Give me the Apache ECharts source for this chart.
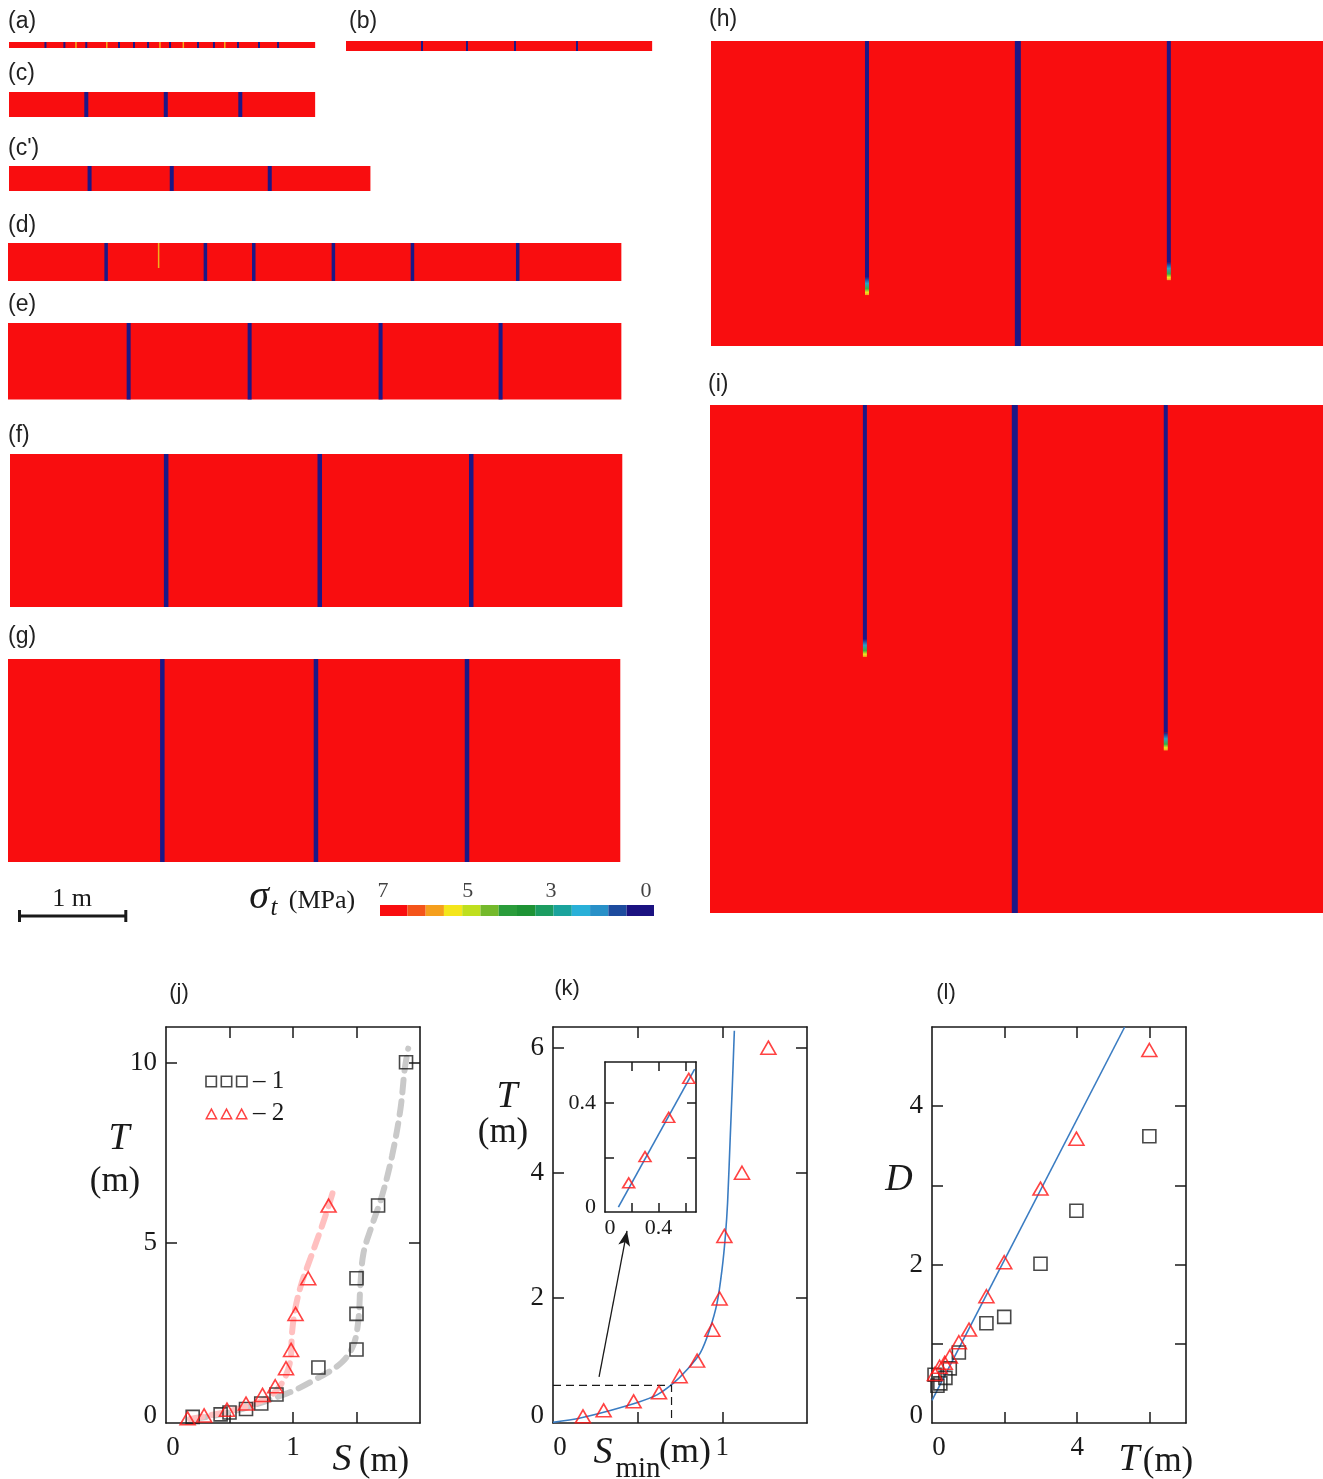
<!DOCTYPE html>
<html>
<head>
<meta charset="utf-8">
<script src="https://cdn.jsdelivr.net/npm/echarts@6/dist/echarts.min.js"></script>
<style>
  html, body { margin: 0; padding: 0; background: #fff; }
  #chart { width: 1323px; height: 1479px; }
</style>
</head>
<body>
<div id="chart"></div>
<script>
// ---------- data: stress contour panels (metres) ----------
const panelNames = ['(a)', '(b)', '(c)', "(c')", '(d)', '(e)', '(f)', '(g)', '(h)', '(i)'];
const panelLength = [2.88, 2.88, 2.88, 3.40, 5.77, 5.77, 5.76, 5.76, 5.76, 5.77];
const panelThickness = [0.056, 0.094, 0.235, 0.235, 0.357, 0.72, 1.44, 1.91, 2.87, 4.78];
const crackX = [
  [0.343, 0.521, 0.727, 1.035, 1.176, 1.308, 1.515, 1.778, 1.928, 2.154, 2.352, 2.531],
  [0.715, 1.138, 1.590, 2.173],
  [0.727, 1.475, 2.176],
  [0.758, 1.531, 2.453],
  [0.923, 1.857, 2.312, 3.061, 3.805, 4.795],
  [1.135, 2.273, 3.505, 4.634],
  [1.469, 2.914, 4.339],
  [1.452, 2.897, 4.318],
  [1.468, 2.888, 4.309],
  [1.458, 2.869, 4.290]
];
// null = crack goes through the whole layer
const crackDepth = [null, null, null, null, null, null, null, null,
  [2.39, 2.87, 2.25],
  [2.37, 4.78, 3.25]];
// partly damaged zones (yellow)
const yieldX = [[0.63, 0.92, 1.42, 1.64, 2.03], [], [], [], [1.417], [], [], [], [], []];
const yieldDepth = [[0.056, 0.056, 0.056, 0.056, 0.056], [], [], [], [0.235], [], [], [], [], []];

// colour bar (sigma_t, MPa)
const cbarEdges = [0, 1.5, 2.5, 3.5, 4.5, 5.5, 6.5, 7.5, 8.5, 9.5, 10.5, 11.5, 12.5, 13.5, 15];
const cbarTickText = ['7', '5', '3', '0'];
const cbarTickPos = [0.16, 4.8, 9.36, 14.56];
const scaleBar = [0, 1]; // m

// ---------- data: (j) T vs S ----------
const jSqS = [0.21, 0.43, 0.50, 0.63, 0.75, 0.87, 1.20, 1.50, 1.50, 1.50, 1.67, 1.89];
const jSqT = [0.17, 0.24, 0.29, 0.39, 0.54, 0.79, 1.54, 2.04, 3.03, 4.02, 6.04, 10.02];
const jTriS = [0.17, 0.30, 0.48, 0.63, 0.76, 0.86, 0.945, 0.985, 1.02, 1.12, 1.28];
const jTriT = [0.13, 0.21, 0.37, 0.54, 0.78, 1.02, 1.52, 2.03, 3.03, 4.02, 6.04];
const jGrayS = [0.215, 0.507, 0.958, 1.17, 1.38, 1.475, 1.515, 1.53, 1.555, 1.62, 1.70, 1.78, 1.846, 1.88, 1.907];
const jGrayT = [0.11, 0.30, 0.83, 1.20, 1.67, 2.16, 2.86, 3.79, 4.72, 5.47, 6.30, 7.42, 8.72, 9.84, 10.4];
const jPinkS = [0.188, 0.507, 0.80, 0.918, 0.979, 0.992, 1.016, 1.064, 1.143, 1.218, 1.276, 1.316];
const jPinkT = [0.11, 0.34, 0.70, 1.14, 1.74, 2.49, 3.14, 3.84, 4.63, 5.37, 5.98, 6.44];

// ---------- data: (k) T vs S_min ----------
const kS = [0.177, 0.299, 0.476, 0.626, 0.748, 0.851, 0.941, 0.984, 1.012, 1.116, 1.272];
const kT = [0.107, 0.203, 0.347, 0.49, 0.747, 0.997, 1.49, 1.99, 2.99, 4.0, 6.0];
const kFitS = [0, 0.161, 0.338, 0.49, 0.614, 0.713, 0.791, 0.87, 0.925, 0.969, 0.998, 1.018, 1.031, 1.047, 1.059, 1.071];
const kFitT = [0.01, 0.08, 0.2, 0.32, 0.45, 0.64, 0.85, 1.12, 1.49, 1.92, 2.45, 2.99, 3.52, 4.59, 5.39, 6.27];
const kBoxS = [0, 0.7, 0.7];
const kBoxT = [0.6, 0.6, 0];
const kArrowS = [0.272, 0.437];
const kArrowT = [0.736, 3.07];
const insetS = kS.slice(0, 4);
const insetT = kT.slice(0, 4);
const insetFitS = [0.1, 0.67];
const insetFitT = [0.018, 0.524];

// ---------- data: (l) D vs T ----------
const lTriT = [0.08, 0.21, 0.35, 0.49, 0.74, 1.02, 1.50, 1.99, 2.99, 3.98, 5.99];
const lTriD = [0.62, 0.71, 0.76, 0.84, 1.02, 1.18, 1.60, 2.03, 2.96, 3.59, 4.71];
const lSqT = [0.07, 0.15, 0.23, 0.37, 0.49, 0.74, 1.50, 1.99, 2.99, 3.98, 5.99];
const lSqD = [0.61, 0.47, 0.50, 0.57, 0.69, 0.89, 1.26, 1.34, 2.01, 2.68, 3.62];
const lFitT = [0, 5.31];
const lFitD = [0.285, 5.0];

// ---------- styles / layout ----------
const PX_PER_M = 106.3;
const RED = '#f90d0f';
const NAVY = '#1b1887';
const INK = '#1a1a1a';
const SERIF = "'Liberation Serif', 'DejaVu Serif', serif";
const SANS = "'Liberation Sans', Arial, sans-serif";
const cbarColors = ['#f90d0f', '#f4541a', '#f59f1d', '#f4e61b', '#bfdf1e', '#74b92b', '#2a9c3b',
  '#1e9335', '#1c9c61', '#1aa39c', '#29b0d8', '#2890c8', '#1d4b9e', '#1b1281'];
const panelLeft = [9, 346, 9, 9, 8, 8, 10, 8, 711, 710];
const panelTop = [42, 41, 92, 166, 243, 323, 454, 659, 41, 405];
const labelX = [8, 349, 8, 8, 8, 8, 8, 8, 709, 708];
const labelY = [22, 22, 74, 149, 226, 305, 436, 637, 20, 385];
const crackWidth = [2, 2, 4, 4, 3.5, 4, 4.5, 4.5, 4.5, 4.5];

const zip = (a, b) => a.map((v, i) => [v, b[i]]);

const grids = [], xAxes = [], yAxes = [], series = [], graphics = [];

function addGrid(g) {
  grids.push(Object.assign({ containLabel: false, show: false }, g));
  return grids.length - 1;
}
function hiddenAxes(gi, xmin, xmax, ymin, ymax, yInverse) {
  xAxes.push({ type: 'value', gridIndex: gi, min: xmin, max: xmax, show: false });
  yAxes.push({ type: 'value', gridIndex: gi, min: ymin, max: ymax, inverse: !!yInverse, show: false });
  return { x: xAxes.length - 1, y: yAxes.length - 1 };
}
function text(x, y, str, size, opts) {
  graphics.push({
    type: 'text', x: x, y: y, z: 100,
    style: Object.assign({
      text: str, fontSize: size, fontFamily: SERIF, fill: INK,
      align: 'center', verticalAlign: 'middle'
    }, opts || {})
  });
}

// ---------- contour panels ----------
panelNames.forEach((name, p) => {
  const L = panelLength[p], H = panelThickness[p];
  const gi = addGrid({ left: panelLeft[p], top: panelTop[p], width: L * PX_PER_M, height: H * PX_PER_M });
  const ax = hiddenAxes(gi, 0, L, 0, H, true);

  series.push({
    type: 'custom', xAxisIndex: ax.x, yAxisIndex: ax.y, clip: false, silent: true,
    data: [[0, 0, L, H]],
    renderItem: (params, api) => {
      const a = api.coord([api.value(0), api.value(1)]);
      const b = api.coord([api.value(2), api.value(3)]);
      return { type: 'rect', shape: { x: a[0], y: a[1], width: b[0] - a[0], height: b[1] - a[1] }, style: { fill: RED } };
    }
  });

  if (yieldX[p].length) {
    series.push({
      type: 'custom', xAxisIndex: ax.x, yAxisIndex: ax.y, clip: false, silent: true,
      data: zip(yieldX[p], yieldDepth[p]),
      renderItem: (params, api) => {
        const t = api.coord([api.value(0), 0]);
        const b = api.coord([api.value(0), api.value(1)]);
        return { type: 'rect', shape: { x: t[0] - 0.75, y: t[1], width: 1.5, height: b[1] - t[1] }, style: { fill: '#f2b01c' } };
      }
    });
  }

  const depths = crackDepth[p] || crackX[p].map(() => H);
  series.push({
    type: 'custom', xAxisIndex: ax.x, yAxisIndex: ax.y, clip: false, silent: true,
    data: zip(crackX[p], depths),
    renderItem: (params, api) => {
      const d = api.value(1);
      const t = api.coord([api.value(0), 0]);
      const b = api.coord([api.value(0), d]);
      const full = d >= H - 1e-6;
      const w = (p >= 8) ? (full ? 6 : 4) : crackWidth[p];
      if (full) {
        return { type: 'rect', shape: { x: t[0] - w / 2, y: t[1], width: w, height: b[1] - t[1] }, style: { fill: NAVY } };
      }
      const tip = 18;
      return {
        type: 'group', children: [
          { type: 'rect', shape: { x: t[0] - w / 2, y: t[1], width: w, height: b[1] - t[1] - tip }, style: { fill: NAVY } },
          {
            type: 'rect', shape: { x: t[0] - w / 2, y: b[1] - tip, width: w, height: tip },
            style: {
              fill: new echarts.graphic.LinearGradient(0, 0, 0, 1, [
                { offset: 0, color: NAVY }, { offset: 0.35, color: '#2a9fc6' },
                { offset: 0.65, color: '#3aae45' }, { offset: 0.85, color: '#f2e21c' }, { offset: 1, color: '#f59a1d' }])
            }
          }
        ]
      };
    }
  });

  text(labelX[p], labelY[p], name, 23, { fontFamily: SANS, align: 'left', fill: '#222' });
});

// ---------- colour bar ----------
{
  const gi = addGrid({ left: 380, top: 905, width: 274, height: 11 });
  const ax = hiddenAxes(gi, 0, 15, 0, 1);
  series.push({
    type: 'custom', xAxisIndex: ax.x, yAxisIndex: ax.y, clip: false, silent: true,
    data: cbarColors.map((c, k) => [cbarEdges[k], cbarEdges[k + 1], k]),
    renderItem: (params, api) => {
      const a = api.coord([api.value(0), 1]);
      const b = api.coord([api.value(1), 0]);
      return { type: 'rect', shape: { x: a[0], y: a[1], width: b[0] - a[0], height: b[1] - a[1] }, style: { fill: cbarColors[api.value(2)] } };
    }
  });
  series.push({
    type: 'scatter', xAxisIndex: ax.x, yAxisIndex: ax.y, silent: true, symbolSize: 1,
    itemStyle: { color: 'rgba(0,0,0,0)' },
    data: cbarTickPos.map((v, k) => [v, 1, cbarTickText[k]]),
    label: { show: true, position: 'top', distance: 2, formatter: q => q.data[2], fontFamily: SERIF, fontSize: 22, color: '#111' }
  });
  text(259, 897, 'σ', 40, { fontStyle: 'italic' });
  text(274, 908, 't', 25, { fontStyle: 'italic' });
  text(322, 901, '(MPa)', 26);
}

// ---------- scale bar ----------
{
  const gi = addGrid({ left: 19.5, top: 906, width: PX_PER_M, height: 20 });
  const ax = hiddenAxes(gi, 0, 1, 0, 1);
  series.push({
    type: 'line', xAxisIndex: ax.x, yAxisIndex: ax.y, silent: true,
    data: scaleBar.map(v => [v, 0.5]),
    symbol: 'rect', symbolSize: [3, 12],
    itemStyle: { color: INK }, lineStyle: { color: INK, width: 3 }
  });
  text(72, 899, '1 m', 26);
}

// ---------- framed plots ----------
function frame(gi, c) {
  const line = { show: true, onZero: false, lineStyle: { color: INK, width: 1.6 } };
  const tick = vals => ({ show: true, inside: true, length: c.tickLen, customValues: vals, lineStyle: { color: INK, width: 1.5 } });
  const fmt = v => (v === 0 ? '{z|0}' : String(v));
  const base = { fontFamily: SERIF, fontSize: c.fontSize, color: INK };
  xAxes.push({
    type: 'value', gridIndex: gi, position: 'bottom', min: c.x[0], max: c.x[1],
    axisLine: line, axisTick: tick(c.xTicks), splitLine: { show: false },
    axisLabel: Object.assign({ customValues: c.xLabels, margin: c.xMargin, formatter: fmt,
      rich: { z: Object.assign({ padding: [0, 0, 0, c.shift * 2] }, base) } }, base)
  });
  xAxes.push({
    type: 'value', gridIndex: gi, position: 'top', min: c.x[0], max: c.x[1],
    axisLine: line, axisTick: tick(c.xTicks), axisLabel: { show: false }, splitLine: { show: false }
  });
  yAxes.push({
    type: 'value', gridIndex: gi, position: 'left', min: c.y[0], max: c.y[1],
    axisLine: line, axisTick: tick(c.yTicks), splitLine: { show: false },
    axisLabel: Object.assign({ customValues: c.yLabels, margin: c.yMargin, formatter: fmt,
      rich: { z: Object.assign({ padding: [0, 0, c.shift * 2, 0] }, base) } }, base)
  });
  yAxes.push({
    type: 'value', gridIndex: gi, position: 'right', min: c.y[0], max: c.y[1],
    axisLine: line, axisTick: tick(c.yTicks), axisLabel: { show: false }, splitLine: { show: false }
  });
  return { x: xAxes.length - 2, y: yAxes.length - 2 };
}

const squareStyle = { color: 'rgba(0,0,0,0)', borderColor: INK, borderWidth: 1.6 };
const triStyle = { color: 'rgba(0,0,0,0)', borderColor: '#ff1414', borderWidth: 1.6 };

// (j)
{
  const gi = addGrid({ left: 166, top: 1027, width: 254, height: 396 });
  const ax = frame(gi, { x: [0, 2], y: [0, 11], xTicks: [0.5, 1, 1.5], yTicks: [5, 10], xLabels: [0, 1], yLabels: [0, 5, 10],
    tickLen: 11, fontSize: 27, xMargin: 11, yMargin: 9, shift: 7 });
  series.push({
    type: 'line', name: 'grey', xAxisIndex: ax.x, yAxisIndex: ax.y, silent: true, smooth: 0.35, symbol: 'none', z: 1,
    data: zip(jGrayS, jGrayT), lineStyle: { color: '#c9c9c9', width: 6, type: [13, 9], cap: 'round' }
  });
  series.push({
    type: 'line', name: 'pink', xAxisIndex: ax.x, yAxisIndex: ax.y, silent: true, smooth: 0.35, symbol: 'none', z: 1,
    data: zip(jPinkS, jPinkT), lineStyle: { color: '#ffc0c0', width: 6, type: [13, 9], cap: 'round' }
  });
  series.push({
    type: 'scatter', name: '1', xAxisIndex: ax.x, yAxisIndex: ax.y, symbol: 'rect', symbolSize: 13,
    data: zip(jSqS, jSqT), itemStyle: squareStyle, z: 3
  });
  series.push({
    type: 'scatter', name: '2', xAxisIndex: ax.x, yAxisIndex: ax.y, symbol: 'triangle', symbolSize: [15, 13],
    data: zip(jTriS, jTriT), itemStyle: triStyle, z: 3
  });
  text(179, 993, '(j)', 22, { fontFamily: SANS, fill: '#222' });
  text(119, 1139, 'T', 38, { fontStyle: 'italic' });
  text(115, 1182, '(m)', 35);
  text(342, 1460, 'S', 38, { fontStyle: 'italic' });
  text(384, 1462, '(m)', 35);
}

// (k)
{
  const gi = addGrid({ left: 553, top: 1027, width: 254, height: 396 });
  const ax = frame(gi, { x: [0, 1.5], y: [0, 6.33], xTicks: [0.5, 1], yTicks: [2, 4, 6], xLabels: [0, 1], yLabels: [0, 2, 4, 6],
    tickLen: 11, fontSize: 27, xMargin: 11, yMargin: 9, shift: 7 });
  series.push({
    type: 'line', xAxisIndex: ax.x, yAxisIndex: ax.y, silent: true, smooth: 0.3, symbol: 'none',
    data: zip(kFitS, kFitT), lineStyle: { color: '#3a7cc2', width: 1.6 }
  });
  series.push({
    type: 'line', xAxisIndex: ax.x, yAxisIndex: ax.y, silent: true, symbol: 'none',
    data: zip(kBoxS, kBoxT), lineStyle: { color: INK, width: 1.2, type: [8, 5] },
    markLine: {
      silent: true, symbol: ['none', 'arrow'], symbolSize: [9, 15], animation: false,
      label: { show: false }, lineStyle: { color: INK, width: 1.3, type: 'solid' },
      data: [[{ coord: [kArrowS[0], kArrowT[0]] }, { coord: [kArrowS[1], kArrowT[1]] }]]
    }
  });
  series.push({
    type: 'scatter', name: 'k', xAxisIndex: ax.x, yAxisIndex: ax.y, symbol: 'triangle', symbolSize: [15, 13],
    data: zip(kS, kT), itemStyle: triStyle, z: 3
  });
  text(567, 989, '(k)', 22, { fontFamily: SANS, fill: '#222' });
  text(507, 1097, 'T', 38, { fontStyle: 'italic' });
  text(503, 1133, '(m)', 35);
  text(603, 1453, 'S', 38, { fontStyle: 'italic' });
  text(638, 1469, 'min', 29);
  text(685, 1453, '(m)', 36);

  // inset
  const gi2 = addGrid({ left: 605, top: 1062, width: 91, height: 150 });
  const ax2 = frame(gi2, { x: [0, 0.68], y: [0, 0.55], xTicks: [0.2, 0.4, 0.6], yTicks: [0.2, 0.4], xLabels: [0, 0.4], yLabels: [0, 0.4],
    tickLen: 9, fontSize: 22, xMargin: 5, yMargin: 9, shift: 5 });
  series.push({
    type: 'line', xAxisIndex: ax2.x, yAxisIndex: ax2.y, silent: true, symbol: 'none',
    data: zip(insetFitS, insetFitT), lineStyle: { color: '#3a7cc2', width: 1.6 }
  });
  series.push({
    type: 'scatter', name: 'inset', xAxisIndex: ax2.x, yAxisIndex: ax2.y, symbol: 'triangle', symbolSize: [12, 10],
    data: zip(insetS, insetT), itemStyle: triStyle, z: 3
  });
}

// (l)
{
  const gi = addGrid({ left: 932, top: 1027, width: 254, height: 396 });
  const ax = frame(gi, { x: [0, 7], y: [0, 5], xTicks: [2, 4, 6], yTicks: [1, 2, 3, 4], xLabels: [0, 4], yLabels: [0, 2, 4],
    tickLen: 11, fontSize: 27, xMargin: 11, yMargin: 9, shift: 7 });
  series.push({
    type: 'line', xAxisIndex: ax.x, yAxisIndex: ax.y, silent: true, symbol: 'none',
    data: zip(lFitT, lFitD), lineStyle: { color: '#3a7cc2', width: 1.6 }
  });
  series.push({
    type: 'scatter', name: 'l1', xAxisIndex: ax.x, yAxisIndex: ax.y, symbol: 'rect', symbolSize: 13,
    data: zip(lSqT, lSqD), itemStyle: squareStyle, z: 3
  });
  series.push({
    type: 'scatter', name: 'l2', xAxisIndex: ax.x, yAxisIndex: ax.y, symbol: 'triangle', symbolSize: [15, 13],
    data: zip(lTriT, lTriD), itemStyle: triStyle, z: 3
  });
  text(946, 993, '(l)', 22, { fontFamily: SANS, fill: '#222' });
  text(899, 1180, 'D', 38, { fontStyle: 'italic' });
  text(1129, 1460, 'T', 38, { fontStyle: 'italic' });
  text(1168, 1462, '(m)', 35);
}

// legend icons: three hollow squares / triangles in a row
let SQ3 = 'path://', TRI3 = 'path://';
for (let k = 0; k < 3; k++) {
  const x = k * 15.3;
  SQ3 += `M${x},0 L${x + 12},0 L${x + 12},12 L${x},12 Z M${x + 1.6},1.6 L${x + 1.6},10.4 L${x + 10.4},10.4 L${x + 10.4},1.6 Z `;
  TRI3 += `M${x},12 L${x + 6.5},0 L${x + 13},12 Z M${x + 2.5},10.5 L${x + 10.5},10.5 L${x + 6.5},3.2 Z `;
}

const option = {
  animation: false,
  backgroundColor: '#ffffff',
  grid: grids,
  xAxis: xAxes,
  yAxis: yAxes,
  legend: {
    left: 205, top: 1069, orient: 'vertical', padding: 0, itemGap: 7,
    itemWidth: 43, itemHeight: 12, selectedMode: false,
    data: [
      { name: '1', icon: SQ3, itemStyle: { color: INK, borderWidth: 0 } },
      { name: '2', icon: TRI3, itemStyle: { color: '#ff1414', borderWidth: 0 } }
    ],
    formatter: n => '– ' + n,
    textStyle: { fontFamily: SERIF, fontSize: 25, color: INK }
  },
  series: series,
  graphic: { elements: graphics }
};

const chart = echarts.init(document.getElementById('chart'));
chart.setOption(option);
</script>
</body>
</html>
